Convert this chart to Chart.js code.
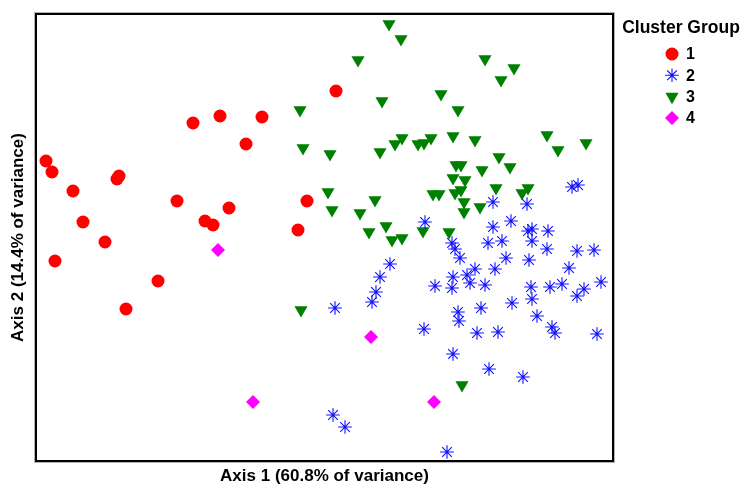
<!DOCTYPE html>
<html>
<head>
<meta charset="utf-8">
<title>Cluster Group ordination</title>
<script src="https://cdn.jsdelivr.net/npm/chart.js@4"></script>
<style>
  body { margin: 0; background: #fff; }
</style>
</head>
<body>
<canvas id="lienzo" width="744" height="486"></canvas>
<script>
// Cluster groups shown in the legend
const groups = ['1', '2', '3', '4'];

// Axis titles
const axisTitleX = 'Axis 1 (60.8% of variance)';
const axisTitleY = 'Axis 2 (14.4% of variance)';
const legendTitle = 'Cluster Group';

// Scores per group
const group1X = [-2.78, -2.72, -2.51, -2.41, -2.19, -2.05, -2.07, -1.47, -1.31, -1.04, -0.62,
                 -0.78, -1.19, -1.11, -0.95, -0.17, -0.26, 0.12, -2.69, -1.66, -1.98];
const group1Y = [0.77, 0.66, 0.47, 0.16, -0.04, 0.62, 0.59, 0.37, 1.15, 1.22, 1.21,
                 0.94, 0.17, 0.13, 0.30, 0.37, 0.08, 1.47, -0.23, -0.43, -0.71];

const group2X = [2.48, 2.54, 1.69, 2.03, 1.01, 1.69, 1.87, 2.04, 2.08, 2.24, 1.28, 1.31, 1.64, 1.78,
                 2.08, 2.23, 1.36, 1.82, 2.05, 2.53, 2.70, 0.66, 0.56, 0.52, 0.48, 0.11, 1.11, 1.29,
                 1.28, 1.43, 1.51, 1.46, 1.61, 1.71, 2.45, 2.77, 2.07, 2.08, 2.26, 2.38, 2.53, 2.60,
                 1.88, 1.57, 1.34, 1.35, 2.13, 2.28, 2.31, 2.73, 1.53, 1.74, 1.00, 1.29, 1.65, 1.99,
                 0.09, 0.21, 1.23];
const group2Y = [0.51, 0.53, 0.36, 0.34, 0.16, 0.11, 0.17, 0.07, 0.09, 0.07, -0.05, -0.11, -0.05, -0.03,
                 -0.03, -0.11, -0.20, -0.20, -0.22, -0.13, -0.12, -0.26, -0.39, -0.54, -0.64, -0.70, -0.48, -0.39,
                 -0.50, -0.37, -0.31, -0.45, -0.47, -0.31, -0.30, -0.44, -0.49, -0.61, -0.49, -0.46, -0.58, -0.51,
                 -0.65, -0.70, -0.74, -0.83, -0.78, -0.89, -0.95, -0.96, -0.95, -0.94, -0.91, -1.16, -1.31, -1.39,
                 -1.77, -1.89, -2.14];

const group3X = [0.65, 0.77, 0.34, 1.61, 1.90, 1.77, 1.17, 0.58, -0.24, 1.34, -0.21, 0.06, 0.56,
                 0.71, 0.78, 0.94, 1.00, 1.07, 1.29, 1.51, 2.23, 2.34, 2.62, 1.75, 1.86, 1.32,
                 1.37, 1.58, 1.29, 1.41, 0.04, 0.51, 0.08, 0.36, 1.09, 1.15, 1.31, 1.37, 1.40,
                 1.40, 1.56, 1.72, 1.98, 2.04, 0.45, 0.62, 0.68, 0.78, 0.99, 1.25, -0.23, 1.38];
const group3Y = [2.14, 1.99, 1.78, 1.79, 1.70, 1.58, 1.44, 1.37, 1.28, 1.28, 0.90, 0.84, 0.86,
                 0.94, 1.00, 0.94, 0.95, 1.00, 1.02, 0.98, 1.03, 0.88, 0.95, 0.81, 0.71, 0.73,
                 0.73, 0.68, 0.60, 0.58, 0.46, 0.38, 0.28, 0.25, 0.44, 0.44, 0.45, 0.48, 0.36,
                 0.26, 0.31, 0.50, 0.45, 0.50, 0.06, 0.12, -0.02, 0.00, 0.07, 0.06, -0.72, -1.47];

const group4X = [-1.06, -0.71, 0.47, 1.10];
const group4Y = [-0.12, -1.64, -0.99, -1.64];

const fontFamily = 'Arial, "Liberation Sans", sans-serif';

// Join x and y lists into points for the scatter
function toPoints(xs, ys) {
  return xs.map((x, i) => ({ x: x, y: ys[i] }));
}

// Plugin: draws the box round the plot and the legend on the right
const frameAndLegend = {
  id: 'frameAndLegend',
  afterDraw(chart) {
    const ctx = chart.ctx;
    const a = chart.chartArea;
    ctx.save();
    ctx.strokeStyle = '#b4b4b4';
    ctx.lineWidth = 1;
    ctx.strokeRect(a.left - 1.5, a.top - 1.5, a.right - a.left + 3, a.bottom - a.top + 3);
    ctx.strokeStyle = '#000';
    ctx.lineWidth = 2;
    ctx.strokeRect(a.left, a.top, a.right - a.left, a.bottom - a.top);

    ctx.fillStyle = '#000';
    ctx.font = 'bold 17.5px ' + fontFamily;
    ctx.textAlign = 'center';
    ctx.textBaseline = 'middle';
    ctx.fillText(legendTitle, 681, 28);

    chart.data.datasets.forEach((ds, i) => {
      const y = 54 + i * 21.3;
      ctx.fillStyle = ds.backgroundColor;
      ctx.strokeStyle = ds.borderColor;
      ctx.lineWidth = ds.borderWidth;
      Chart.helpers.drawPoint(ctx, {
        pointStyle: ds.pointStyle,
        radius: ds.pointRadius,
        rotation: ds.pointRotation || 0,
        borderWidth: ds.borderWidth
      }, 672, y);
      ctx.fillStyle = '#000';
      ctx.textAlign = 'left';
      ctx.font = 'bold 16px ' + fontFamily;
      ctx.fillText(ds.label, 686, y + 1);
    });
    ctx.restore();
  }
};

const ctx = document.getElementById('lienzo').getContext('2d');

const myChart = new Chart(ctx, {
  type: 'scatter',
  data: {
    datasets: [{
      label: groups[0],
      data: toPoints(group1X, group1Y),
      pointStyle: 'circle',
      pointRadius: 6.5,
      backgroundColor: '#ff0000',
      borderColor: '#ff0000',
      borderWidth: 0
    }, {
      label: groups[1],
      data: toPoints(group2X, group2Y),
      pointStyle: 'star',
      pointRadius: 6.8,
      backgroundColor: '#1010ff',
      borderColor: '#1010ff',
      borderWidth: 1.1
    }, {
      label: groups[2],
      data: toPoints(group3X, group3Y),
      pointStyle: 'triangle',
      pointRotation: 180,
      pointRadius: 7.6,
      backgroundColor: '#008000',
      borderColor: '#008000',
      borderWidth: 0
    }, {
      label: groups[3],
      data: toPoints(group4X, group4Y),
      pointStyle: 'rectRot',
      pointRadius: 7,
      backgroundColor: '#ff00ff',
      borderColor: '#ff00ff',
      borderWidth: 0
    }]
  },
  options: {
    responsive: false,
    animation: false,
    events: [],
    clip: false,
    layout: { padding: { left: 0, top: 14, right: 131, bottom: 0 } },
    plugins: {
      legend: { display: false },
      tooltip: { enabled: false }
    },
    scales: {
      x: {
        type: 'linear',
        min: -2.88,
        max: 2.89,
        grid: { display: false, drawTicks: false },
        border: { display: false },
        ticks: { display: false },
        title: {
          display: true,
          text: axisTitleX,
          color: '#000',
          font: { family: fontFamily, size: 17, weight: 'bold', lineHeight: 1 },
          padding: { top: 6.5, bottom: 1.5 }
        }
      },
      y: {
        type: 'linear',
        min: -2.23,
        max: 2.24,
        grid: { display: false, drawTicks: false },
        border: { display: false },
        ticks: { display: false },
        title: {
          display: true,
          text: axisTitleY,
          color: '#000',
          font: { family: fontFamily, size: 17, weight: 'bold', lineHeight: 1 },
          padding: { top: 9.5, bottom: 9.5 }
        }
      }
    }
  },
  plugins: [frameAndLegend]
});
</script>
</body>
</html>
